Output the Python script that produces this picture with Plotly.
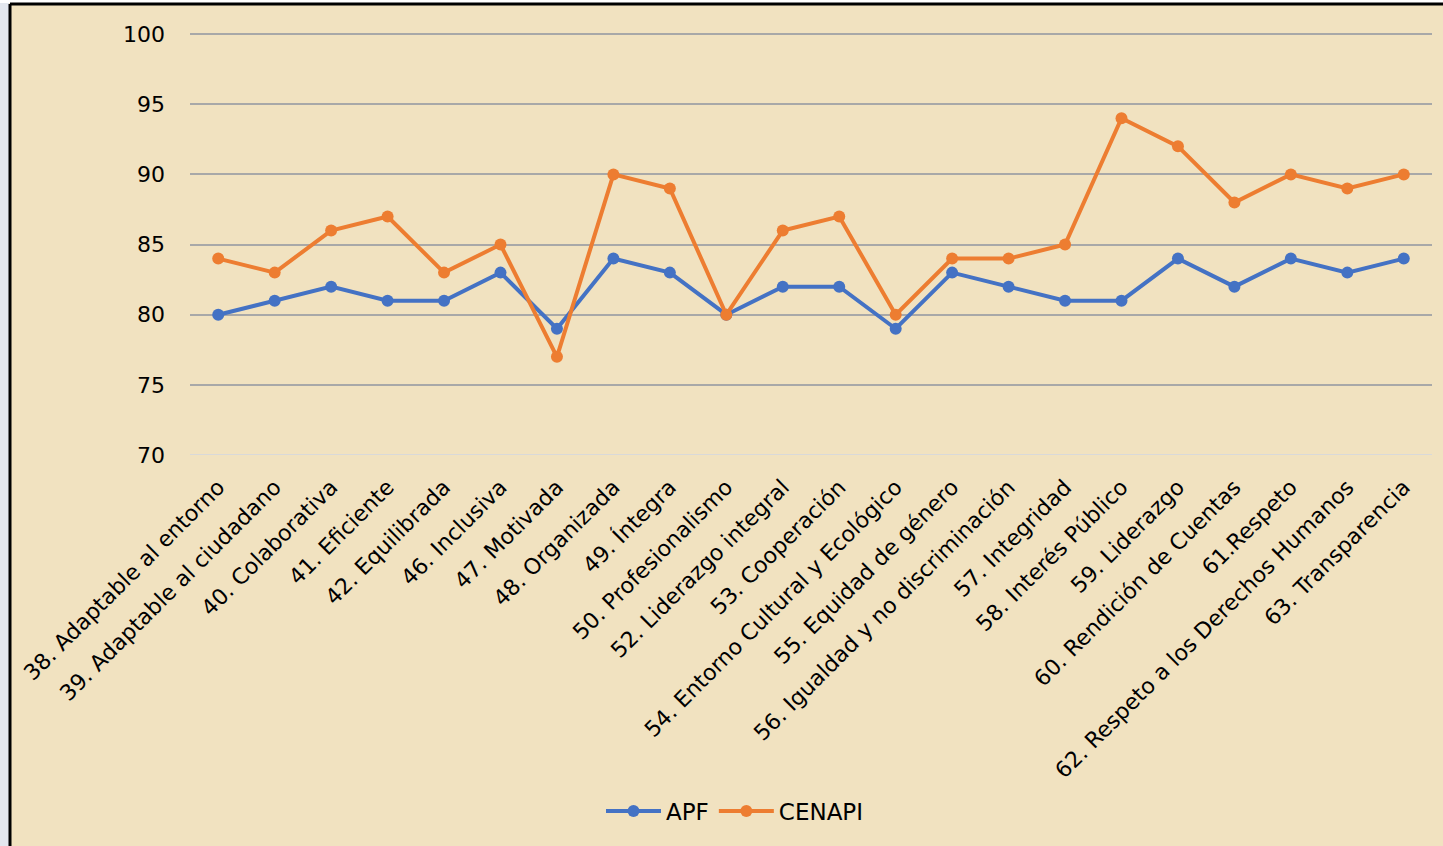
import plotly.graph_objects as go

categories = ["38. Adaptable al entorno", "39. Adaptable al ciudadano", "40. Colaborativa",
              "41. Eficiente", "42. Equilibrada", "46. Inclusiva", "47. Motivada",
              "48. Organizada", "49. Íntegra", "50. Profesionalismo", "52. Liderazgo integral",
              "53. Cooperación", "54. Entorno Cultural y Ecológico", "55. Equidad de género",
              "56. Igualdad y no discriminación", "57. Integridad", "58. Interés Público",
              "59. Liderazgo", "60. Rendición de Cuentas", "61.Respeto",
              "62. Respeto a los Derechos Humanos", "63. Transparencia"]
apf = [80, 81, 82, 81, 81, 83, 79, 84, 83, 80, 82, 82, 79, 83, 82, 81, 81, 84, 82, 84, 83, 84]
cenapi = [84, 83, 86, 87, 83, 85, 77, 90, 89, 80, 86, 87, 80, 84, 84, 85, 94, 92, 88, 90, 89, 90]
y_ticks = [70, 75, 80, 85, 90, 95, 100]

W, H = 1443, 846
L, R, T, B = 190, 11, 33, 391
pw, ph = W - L - R, H - T - B

def px(x):
    return (x - L) / pw

def py(y):
    return (H - B - y) / ph

fig = go.Figure()
fig.add_trace(go.Scatter(x=categories, y=apf, name="APF", mode="lines+markers",
                         line=dict(color="#4472C4", width=4), marker=dict(size=12, color="#4472C4")))
fig.add_trace(go.Scatter(x=categories, y=cenapi, name="CENAPI", mode="lines+markers",
                         line=dict(color="#ED7D31", width=4), marker=dict(size=12, color="#ED7D31")))

font = "DejaVu Sans, sans-serif"
fig.update_layout(
    width=W, height=H,
    margin=dict(l=L, r=R, t=T, b=B),
    paper_bgcolor="#F1E2C0", plot_bgcolor="rgba(0,0,0,0)",
    font=dict(family=font, color="#000000"),
    showlegend=True,
    legend=dict(orientation="h", x=px(735), xanchor="center", y=py(811), yanchor="middle",
                font=dict(size=23, family=font), bgcolor="rgba(0,0,0,0)", itemwidth=55),
    xaxis=dict(type="category", range=[-0.5, 21.5], tickangle=-45, showgrid=False,
               tickfont=dict(size=22, family=font), showline=False, ticks="",
               ticklabelstandoff=14),
    yaxis=dict(range=[70, 100.08], tickvals=y_ticks, showgrid=True, gridcolor="#A8A8A8", gridwidth=1.5,
               zeroline=False, tickfont=dict(size=22, family=font), ticklabelstandoff=24, showline=False),
    shapes=[
        dict(type="rect", xref="paper", yref="paper", x0=px(0), x1=px(9), y0=py(H), y1=py(0),
             fillcolor="#E3E7EE", line=dict(width=0), layer="below"),
        dict(type="rect", xref="paper", yref="paper", x0=px(0), x1=px(W), y0=py(3), y1=py(0),
             fillcolor="#FFFFFF", line=dict(width=0), layer="below"),
        dict(type="line", xref="paper", yref="paper", x0=px(10), x1=px(10), y0=py(H), y1=py(4),
             line=dict(color="#000000", width=3)),
        dict(type="line", xref="paper", yref="paper", x0=px(10), x1=px(W), y0=py(4), y1=py(4),
             line=dict(color="#000000", width=3)),
        dict(type="line", xref="x", yref="y", x0=-0.5, x1=21.5, y0=70, y1=70,
             line=dict(color="#D9D9D9", width=2), layer="below"),
    ],
)

fig.write_html("out.html", config={"displayModeBar": False},
               post_script="document.body.style.margin='0';document.body.style.overflow='hidden';")
